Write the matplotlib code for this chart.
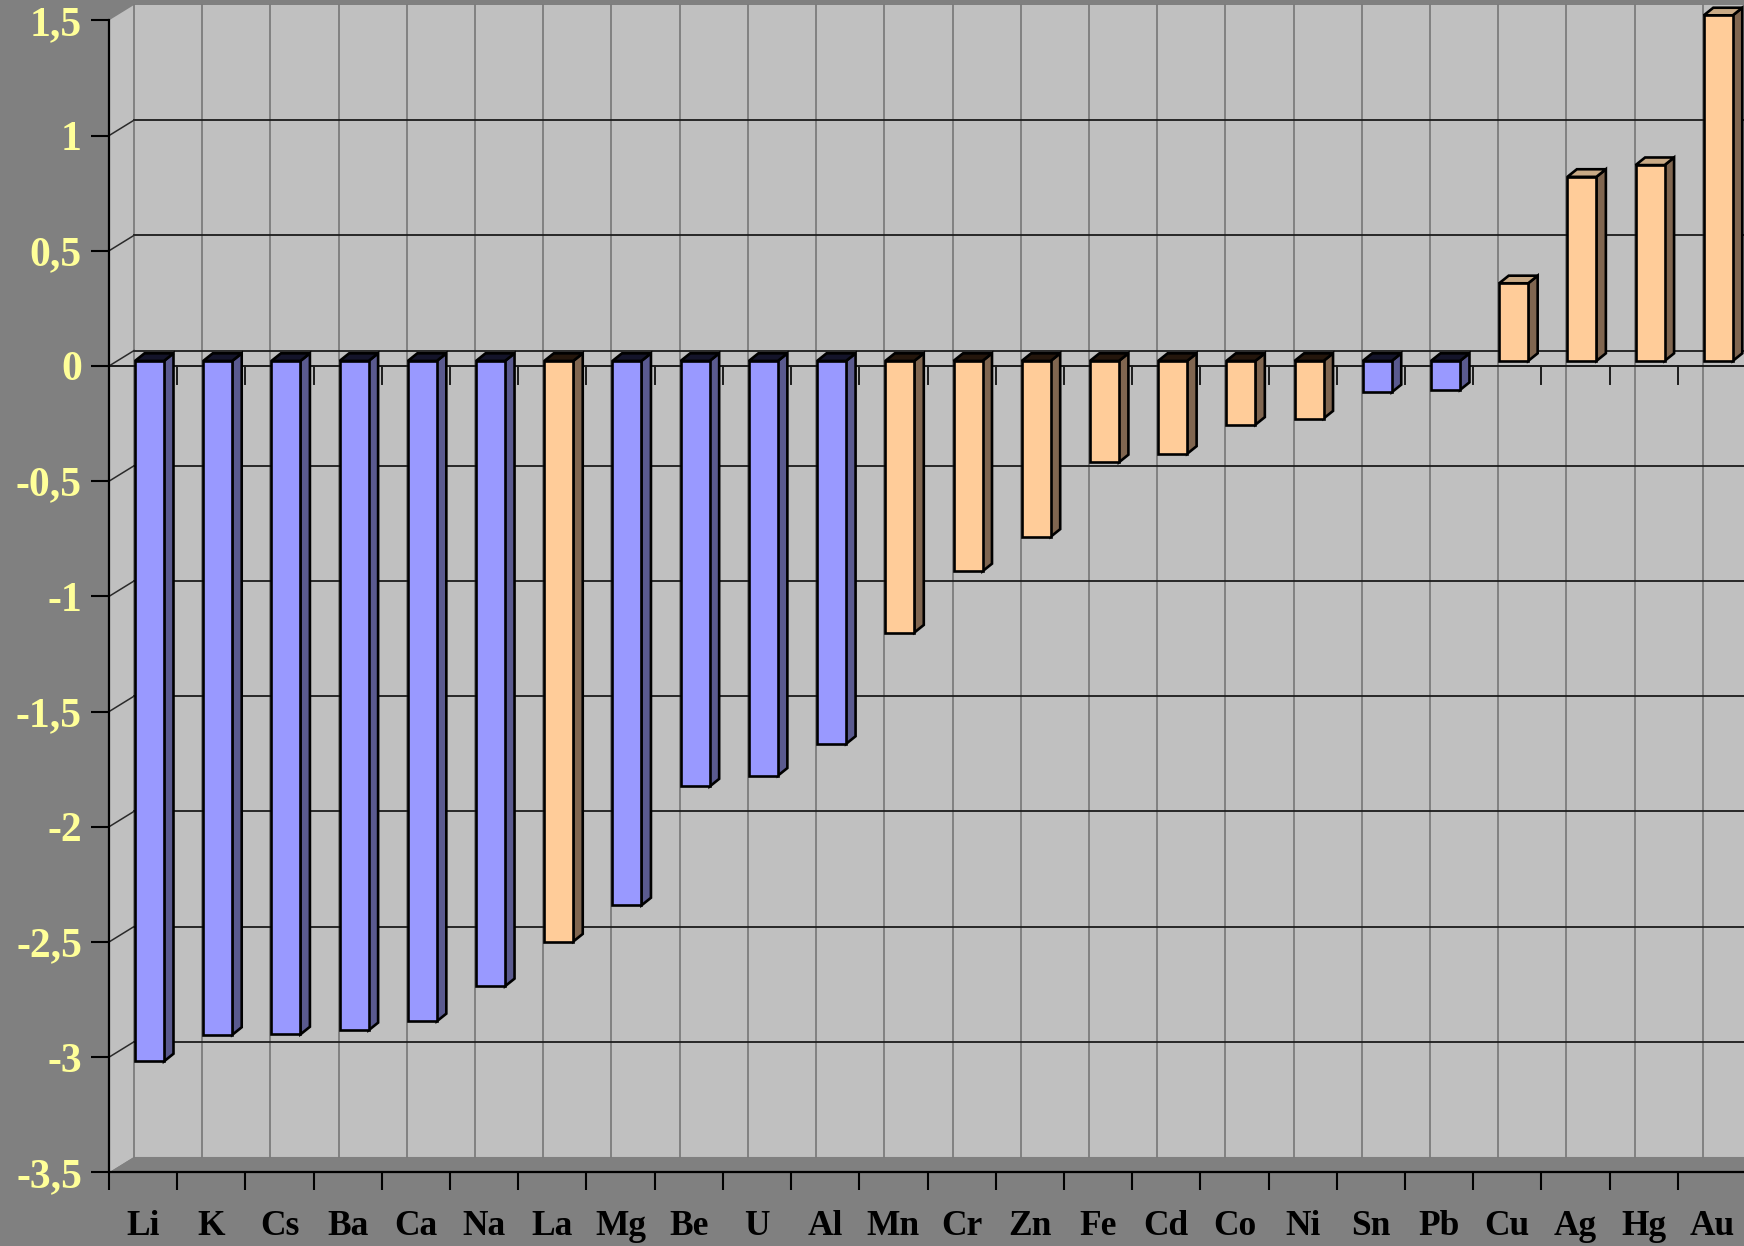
import numpy as np
import matplotlib
matplotlib.use("Agg")
import matplotlib.pyplot as plt
from matplotlib.patches import Polygon, Rectangle
from matplotlib.ticker import FixedLocator, FuncFormatter, NullFormatter

# Standard electrode potentials, V (metal / metal ion)
elements = ["Li", "K", "Cs", "Ba", "Ca", "Na", "La", "Mg", "Be", "U", "Al", "Mn",
            "Cr", "Zn", "Fe", "Cd", "Co", "Ni", "Sn", "Pb", "Cu", "Ag", "Hg", "Au"]
potentials = [-3.04, -2.925, -2.923, -2.905, -2.866, -2.714, -2.52, -2.363, -1.847,
              -1.80, -1.662, -1.179, -0.913, -0.763, -0.44, -0.403, -0.277, -0.25,
              -0.136, -0.126, 0.337, 0.799, 0.85, 1.50]
block = ["s", "s", "s", "s", "s", "s", "d", "s", "s", "f", "p", "d",
         "d", "d", "d", "d", "d", "d", "p", "p", "d", "d", "d", "d"]
y_ticks = [-3.5, -3.0, -2.5, -2.0, -1.5, -1.0, -0.5, 0.0, 0.5, 1.0, 1.5]

# colours: (front, side, cap above zero, cap below zero)
STYLE = {
    "d": ("#ffcc99", "#806650", "#c9aa86", "#24160c"),
    "other": ("#9999ff", "#5a5a8f", "#3a3a66", "#14142a"),
}
BG = "#808080"
WALL = "#c0c0c0"

n = len(elements)
ymin, ymax = y_ticks[0], y_ticks[-1]

# pseudo-3D geometry (category units on x, volts on y)
DX, DY = 0.367, 0.067      # depth of the box (front plane -> back wall)
W = 0.425                  # column width
OX, OY = 0.094, 0.022      # front face of a column relative to the front plane
BDX, BDY = 0.139, 0.033    # column depth

plt.rcParams["font.family"] = ["Liberation Serif", "DejaVu Serif"]
plt.rcParams["font.weight"] = "bold"

fig = plt.figure(figsize=(17.44, 12.46), dpi=100, facecolor=BG)
ax = fig.add_axes([109 / 1744, (1246 - 1172.4) / 1246, 1637 / 1744, (1172.4 - 20.4) / 1246])
ax.set_xlim(0, n)
ax.set_ylim(ymin, ymax)
ax.patch.set_visible(False)

# back wall, side wall and floor
back = Polygon([(DX, ymin + DY), (n + DX, ymin + DY), (n + DX, ymax + DY), (DX, ymax + DY)],
               closed=True, facecolor=WALL, edgecolor="none", zorder=0, clip_on=False)
side = Polygon([(0, ymin), (DX, ymin + DY), (DX, ymax + DY), (0, ymax)],
               closed=True, facecolor=WALL, edgecolor="none", zorder=0, clip_on=False)
floor = Polygon([(0, ymin), (n, ymin), (n + DX, ymin + DY), (DX, ymin + DY)],
                closed=True, facecolor=BG, edgecolor="none", zorder=0.5, clip_on=False)
for p in (back, side, floor):
    ax.add_patch(p)

# vertical grid on the back wall at category boundaries
for i in range(n + 1):
    ax.plot([i + DX, i + DX], [ymin + DY, ymax + DY], color="#7c7c7c", lw=1.3,
            zorder=0.6, clip_on=False)

# horizontal grid on the back wall plus connectors across the side wall
for v in y_ticks[1:-1]:
    ax.plot([DX, n + DX], [v + DY, v + DY], color="#1c1c1c", lw=1.3, zorder=0.7, clip_on=False)
    ax.plot([0, DX], [v, v + DY], color="#2a2a2a", lw=1.1, zorder=0.7, clip_on=False)

# category axis line through zero with its small tick marks
ax.plot([0, n], [0, 0], color="#1c1c1c", lw=1.4, zorder=1, clip_on=False)
for i in range(1, n + 1):
    ax.plot([i, i], [0, -0.078], color="#1c1c1c", lw=1.4, zorder=1, clip_on=False)

# columns
for i, (v, b) in enumerate(zip(potentials, block)):
    front_c, side_c, cap_pos, cap_neg = STYLE["d" if b == "d" else "other"]
    x0 = i + 0.5 - W / 2 + OX
    x1 = x0 + W
    base, top = OY, v + OY
    kw = dict(edgecolor="black", lw=1.9, joinstyle="miter", zorder=3 + i * 0.01, clip_on=False)
    ax.add_patch(Polygon([(x1, base), (x1, top), (x1 + BDX, top + BDY), (x1 + BDX, base + BDY)],
                         closed=True, facecolor=side_c, **kw))
    cy = max(base, top)
    ax.add_patch(Polygon([(x0, cy), (x1, cy), (x1 + BDX, cy + BDY), (x0 + BDX, cy + BDY)],
                         closed=True, facecolor=cap_pos if v > 0 else cap_neg, **kw))
    ax.add_patch(Rectangle((x0, min(base, top)), W, abs(v), facecolor=front_c, **kw))

# axes frame
for s in ("top", "right"):
    ax.spines[s].set_visible(False)
for s in ("left", "bottom"):
    ax.spines[s].set_color("black")
    ax.spines[s].set_linewidth(1.6)
    ax.spines[s].set_zorder(2)

ax.yaxis.set_major_locator(FixedLocator(y_ticks))
ax.yaxis.set_major_formatter(FuncFormatter(lambda v, _: ("%g" % v).replace(".", ",")))
ax.tick_params(axis="y", direction="out", length=13, width=1.5, color="black",
               pad=6.5, labelsize=30, labelcolor="#ffff99")

ax.xaxis.set_major_locator(FixedLocator(range(n + 1)))
ax.xaxis.set_major_formatter(NullFormatter())
ax.xaxis.set_minor_locator(FixedLocator(np.arange(n) + 0.5))
ax.xaxis.set_minor_formatter(FuncFormatter(lambda v, pos: elements[int(v)]))
ax.tick_params(axis="x", which="major", direction="out", length=13, width=1.5, color="black")
ax.tick_params(axis="x", which="minor", length=0, pad=27, labelsize=25.5, labelcolor="black")

fig.savefig("out.png", dpi=100, facecolor=BG)
